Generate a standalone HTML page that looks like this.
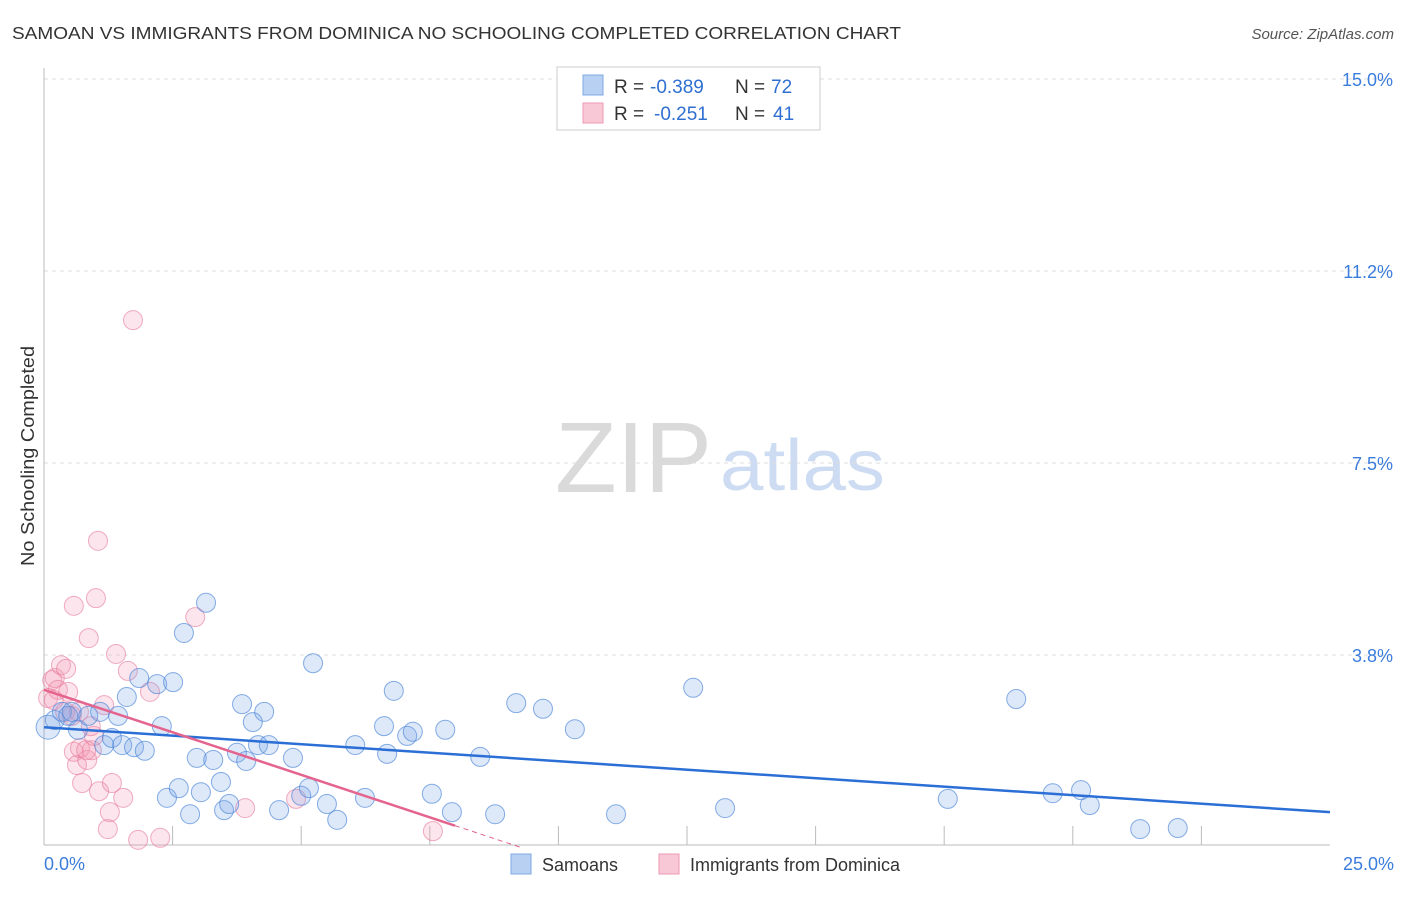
<!DOCTYPE html>
<html><head><meta charset="utf-8"><style>
body{margin:0;background:#fff;font-family:"Liberation Sans",sans-serif;}
svg text{font-family:"Liberation Sans",sans-serif;}
</style></head><body>
<svg id="chart" width="1406" height="892" viewBox="0 0 1406 892" xmlns="http://www.w3.org/2000/svg">
<text x="12" y="39" font-size="17.5" fill="#333" textLength="889" lengthAdjust="spacingAndGlyphs">SAMOAN VS IMMIGRANTS FROM DOMINICA NO SCHOOLING COMPLETED CORRELATION CHART</text>
<text x="1394" y="39" font-size="15" fill="#555" text-anchor="end" font-style="italic">Source: ZipAtlas.com</text>
<text transform="translate(34,456) rotate(-90)" font-size="18" fill="#333" text-anchor="middle" textLength="220" lengthAdjust="spacingAndGlyphs">No Schooling Completed</text>
<g>
<text x="555" y="492" font-size="100" fill="#dadada" font-family="Liberation Serif" textLength="157" lengthAdjust="spacingAndGlyphs">ZIP</text>
<text x="720" y="490" font-size="72" fill="#cddcf2" textLength="165" lengthAdjust="spacingAndGlyphs">atlas</text>
</g>
<g id="grid"></g><g id="axes"></g><g id="pts"></g><g id="trend"></g>
<g>
<rect x="557" y="67" width="263" height="63" fill="#fff" stroke="#ccc"/>
<rect x="583" y="75" width="20" height="20" fill="#b8d1f3" stroke="#7fa8e0"/>
<text x="614" y="93" font-size="19" fill="#333">R =</text>
<text x="650" y="93" font-size="19" fill="#2f6fd1">-0.389</text>
<text x="735" y="93" font-size="19" fill="#333">N =</text>
<text x="771" y="93" font-size="19" fill="#2f6fd1">72</text>
<rect x="583" y="103" width="20" height="20" fill="#f9c8d6" stroke="#eb9ab2"/>
<text x="614" y="120" font-size="19" fill="#333">R =</text>
<text x="654" y="120" font-size="19" fill="#2f6fd1">-0.251</text>
<text x="735" y="120" font-size="19" fill="#333">N =</text>
<text x="773" y="120" font-size="19" fill="#2f6fd1">41</text>
</g>
<g>
<rect x="511" y="854" width="20" height="20" fill="#b8d1f3" stroke="#7fa8e0"/>
<text x="542" y="871" font-size="18" fill="#333">Samoans</text>
<rect x="659" y="854" width="20" height="20" fill="#f9c8d6" stroke="#eb9ab2"/>
<text x="690" y="871" font-size="18" fill="#333">Immigrants from Dominica</text>
</g>
</svg>
<script>
const yTicks=[3.75,7.5,11.25,15];
const yTickLabels=["3.8%","7.5%","11.2%","15.0%"];
const xTicks=[2.5,5,7.5,10,12.5,15,17.5,20,22.5];
const blueX=[0.08,0.21,0.35,0.47,0.54,0.66,0.86,1.09,1.17,1.32,1.44,1.52,1.61,1.75,1.85,1.96,2.20,2.29,2.39,2.51,2.62,2.72,2.84,2.97,3.05,3.15,3.29,3.44,3.50,3.60,3.75,3.85,3.93,4.06,4.16,4.28,4.37,4.57,4.84,5.00,5.15,5.23,5.50,5.70,6.05,6.24,6.67,6.61,6.80,7.06,7.17,7.54,7.80,7.93,8.48,8.77,9.18,9.70,10.32,11.12,12.62,13.24,17.57,18.90,19.61,20.16,20.33,21.31,22.04];
const blueY=[2.34,2.48,2.64,2.56,2.64,2.29,2.56,2.64,1.99,2.13,2.56,1.99,2.93,1.95,3.30,1.88,3.18,2.36,0.96,3.22,1.15,4.18,0.64,1.74,1.07,4.77,1.70,1.27,0.72,0.84,1.84,2.79,1.68,2.44,1.99,2.64,1.99,0.72,1.74,1.00,1.15,3.59,0.84,0.53,1.99,0.96,1.82,2.36,3.05,2.17,2.25,1.04,2.29,0.68,1.76,0.64,2.81,2.70,2.30,0.64,3.11,0.76,0.94,2.89,1.05,1.11,0.82,0.35,0.37];
const pinkX=[0.08,0.16,0.21,0.27,0.33,0.43,0.47,0.54,0.58,0.58,0.64,0.70,0.74,0.84,0.87,0.93,0.97,1.01,1.05,1.07,1.17,1.28,1.32,1.24,1.40,1.54,1.63,1.73,1.83,2.06,2.26,2.94,3.91,4.90,7.56,0.19,0.41,0.82,0.68,0.91];
const pinkY=[2.91,3.26,3.30,3.07,3.55,3.48,3.03,2.56,4.71,1.86,1.60,1.93,1.25,1.70,4.08,1.89,2.17,4.86,5.98,1.09,2.77,0.68,1.25,0.35,3.77,0.96,3.44,10.29,0.14,3.03,0.18,4.49,0.76,0.94,0.31,2.87,2.64,1.89,2.64,2.36];
const blueTrend=[2.34,0.68];   // y at x=0 and x=25
const pinkTrend=[3.07,-0.332]; // intercept, slope
const pinkSolidEnd=7.99;
const X0=44,X1=1330,Y0=847,Y15=79;
const sx=v=>X0+(v/25)*(X1-X0);
const sy=v=>Y0-(v/15)*(Y0-Y15);
const NS="http://www.w3.org/2000/svg";
function mk(parent,tag,attrs){const e=document.createElementNS(NS,tag);for(const k in attrs)e.setAttribute(k,attrs[k]);document.getElementById(parent).appendChild(e);return e;}
yTicks.forEach((t,i)=>{
 const l=mk('grid','line',{x1:X0,x2:1394,y1:sy(t),y2:sy(t),stroke:'#ddd','stroke-dasharray':'4,4'});
 
 
 const tx=mk('grid','text',{x:1393,y:sy(t)+7,'font-size':18,fill:'#3b7ddd','text-anchor':'end'});
 tx.textContent=yTickLabels[i];
 
 
});
const ya=mk('axes','line',{x1:X0,x2:X0,y1:68,y2:845,stroke:'#bbb'});


const xa=mk('axes','line',{x1:X0,x2:X1,y1:845,y2:845,stroke:'#bbb'});


xTicks.forEach(t=>{
 const l=mk('axes','line',{x1:sx(t),x2:sx(t),y1:826,y2:845,stroke:'#bbb'});
 
 
});
const xl0=mk('axes','text',{x:44,y:870,'font-size':18,fill:'#3b7ddd'});xl0.textContent='0.0%';


const xl1=mk('axes','text',{x:1394,y:870,'font-size':18,fill:'#3b7ddd','text-anchor':'end'});xl1.textContent='25.0%';


pinkX.forEach((v,i)=>{
 const c=mk('pts','circle',{cx:sx(v),cy:sy(pinkY[i]),r:9.5,fill:'rgba(242,150,178,0.25)',stroke:'rgba(230,120,155,0.6)','stroke-width':1});
 
 
});
blueX.forEach((v,i)=>{
 const c=mk('pts','circle',{cx:sx(v),cy:sy(blueY[i]),r:i==0?12:9.5,fill:'rgba(120,165,230,0.25)',stroke:'rgba(70,130,215,0.65)','stroke-width':1});
 
 
});
const bt=mk('trend','line',{x1:sx(0),y1:sy(blueTrend[0]),x2:sx(25),y2:sy(blueTrend[1]),stroke:'#2b6fd6','stroke-width':2.5});


const pe=pinkTrend[0]+pinkTrend[1]*pinkSolidEnd;
const pt=mk('trend','line',{x1:sx(0),y1:sy(pinkTrend[0]),x2:sx(pinkSolidEnd),y2:sy(pe),stroke:'#e4648e','stroke-width':2.5});


const xz=-pinkTrend[0]/pinkTrend[1];
const pd=mk('trend','line',{x1:sx(pinkSolidEnd),y1:sy(pe),x2:sx(xz),y2:sy(0),stroke:'#e4648e','stroke-width':1,'stroke-dasharray':'5,4'});


</script>
</body></html>
